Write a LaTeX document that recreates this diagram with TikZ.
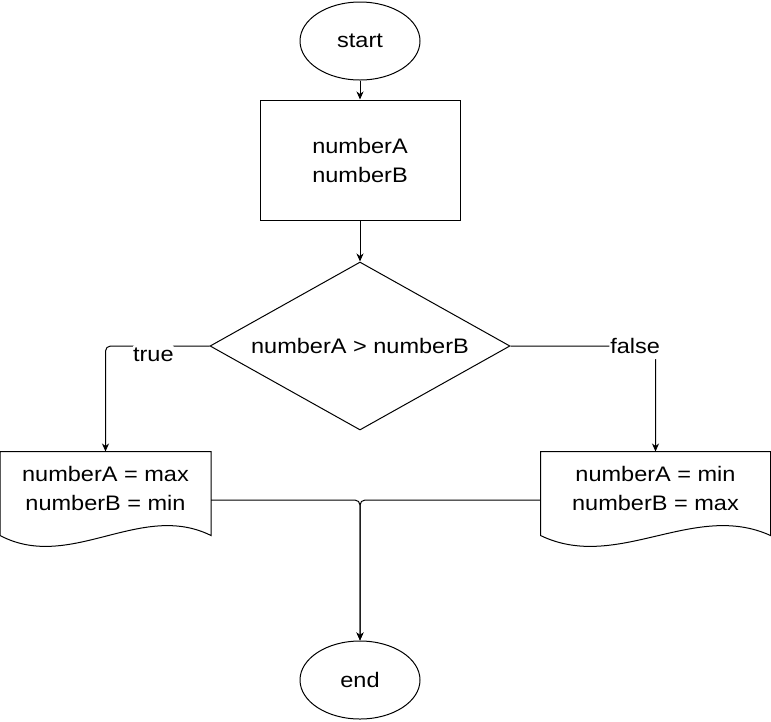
\documentclass[tikz,border=0pt]{standalone}
\usepackage{fontspec}
\setmainfont{Liberation Sans}[FakeStretch=1.12]
\usetikzlibrary{calc, positioning}
\usetikzlibrary{shapes.geometric}
\usetikzlibrary{arrows.meta}

\begin{document}
\begin{tikzpicture}[x=1pt,y=-1pt,line width=1pt,
  every node/.style={font=\fontsize{21}{29}\selectfont,align=center,inner sep=0pt},
  terminal/.style={draw,ellipse,minimum width=120pt,minimum height=78pt},
  inputbox/.style={draw,rectangle,minimum width=200pt,minimum height=120pt},
  decision/.style={draw,diamond,aspect=1.786,minimum width=300pt,minimum height=168pt},
  docbox/.style={rectangle,minimum width=#1,minimum height=72pt},
  flow/.style={-{Stealth[length=8pt,width=7pt,inset=2.5pt]},rounded corners=5pt},
  edgelabel/.style={fill=white,inner sep=1pt,text height=16pt,text depth=5pt}]
\useasboundingbox (0,0) rectangle (771,721);
\def\docwave{11}

\node[terminal] (Start) at (360,41) {start};
\node[inputbox] (Input) at (360,160) {numberA\\numberB};
\node[decision] (Compare) at (360,346) {numberA > numberB};
\node[docbox=210pt] (MaxFirst) at (105.5,488) {numberA = max\\numberB = min};
\node[docbox=229pt] (MinFirst) at (655.5,488) {numberA = min\\numberB = max};
\node[terminal] (End) at (360,680) {end};

\foreach \doc in {MaxFirst,MinFirst} {
  \draw (\doc.north west) -- (\doc.north east) -- ($(\doc.south east)+(0,\docwave)$)
    .. controls ($(\doc.south east)!1/3!(\doc.south west)+(0,-24)$)
    and ($(\doc.south east)!2/3!(\doc.south west)+(0,48)$)
    .. ($(\doc.south west)+(0,\docwave)$) -- cycle;
}

\draw[flow] (Start) -- (Input);
\draw[flow] (Input) -- (Compare);
\draw[flow] (Compare.west) -| node[edgelabel,pos=0.27,yshift=-9.5pt] {true} (MaxFirst.north);
\draw[flow] (Compare.east) -| node[edgelabel,pos=0.43,yshift=-1.5pt] {false} (MinFirst.north);
\draw[flow] ([yshift=-12pt]MaxFirst.east) -| (End.north);
\draw[flow] ([yshift=-12pt]MinFirst.west) -| (End.north);
\end{tikzpicture}
\end{document}
